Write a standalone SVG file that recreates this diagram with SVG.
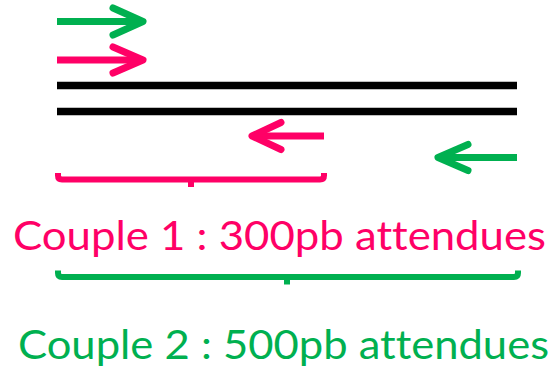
<svg xmlns="http://www.w3.org/2000/svg" width="558" height="374" viewBox="0 0 558 374">
  <style>
    .pink { stroke: #FF0066; }
    .green { stroke: #00B050; }
    .arrow { fill: none; stroke-width: 7; stroke-linecap: round; stroke-linejoin: round; }
    .shaft { fill: none; stroke-width: 7; stroke-linecap: butt; }
    .brace { fill: none; stroke-width: 6; stroke-linecap: butt; stroke-linejoin: round; }
    .strand { stroke: #000; stroke-width: 7.5; }
    .label { font-family: "Lato", "Liberation Sans", sans-serif; font-size: 41px; font-variant-ligatures: none; }
  </style>
  <rect width="558" height="374" fill="#fff"/>

  <!-- DNA double strand -->
  <g id="dna">
    <line class="strand" x1="57" y1="85.5" x2="517" y2="85.5"/>
    <line class="strand" x1="57" y1="111.5" x2="517" y2="111.5"/>
  </g>

  <!-- primers -->
  <g id="connectors">
    <g id="fwd2">
      <line class="shaft green" x1="57" y1="21.5" x2="140" y2="21.5"/>
      <polyline class="arrow green" points="113,8 143,21.5 113,35"/>
    </g>
    <g id="fwd1">
      <line class="shaft pink" x1="57" y1="60" x2="140" y2="60"/>
      <polyline class="arrow pink" points="113,47 143,60 113,73"/>
    </g>
    <g id="rev1">
      <line class="shaft pink" x1="324" y1="136" x2="256" y2="136"/>
      <polyline class="arrow pink" points="281,122.5 252,136 281,149.5"/>
    </g>
    <g id="rev2">
      <line class="shaft green" x1="517" y1="157.5" x2="442" y2="157.5"/>
      <polyline class="arrow green" points="468,144.5 438,157.5 468,170.5"/>
    </g>
  </g>

  <!-- amplicon 1 -->
  <g id="couple1">
    <path class="brace pink" d="M58,173 V175.5 Q58,179.5 62,179.5 H320 Q324,179.5 324,175.5 V173"/>
    <line class="pink" stroke-width="6" x1="191" y1="179" x2="191" y2="187"/>
    <text class="label" x="13" y="250" fill="#FF0066" textLength="533" lengthAdjust="spacingAndGlyphs">Couple 1 : 300pb attendues</text>
  </g>

  <!-- amplicon 2 -->
  <g id="couple2">
    <path class="brace green" d="M58,270.5 V273 Q58,277 62,277 H514 Q518,277 518,273 V270.5"/>
    <line class="green" stroke-width="6" x1="287" y1="276.5" x2="287" y2="284.5"/>
    <text class="label" x="18" y="359" fill="#00B050" textLength="531" lengthAdjust="spacingAndGlyphs">Couple 2 : 500pb attendues</text>
  </g>
</svg>
